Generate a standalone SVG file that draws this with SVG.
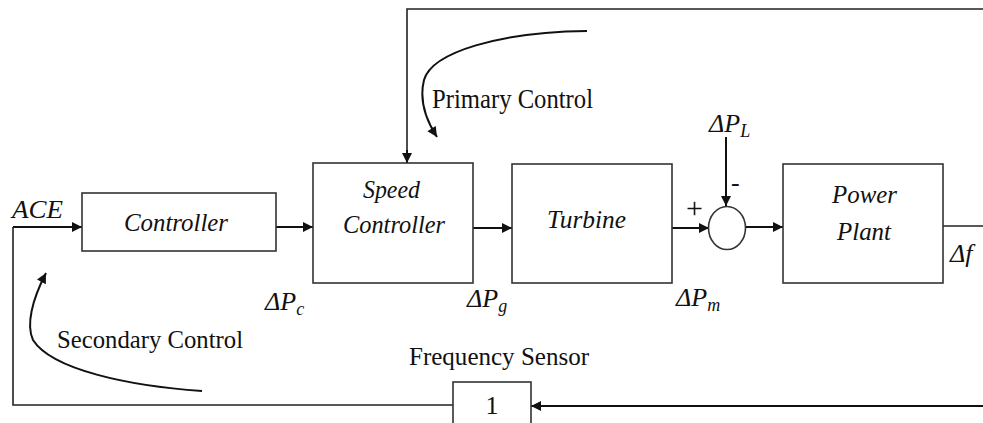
<svg xmlns="http://www.w3.org/2000/svg" width="983" height="423" viewBox="0 0 983 423">
<style>
.box{fill:#fff;stroke:#333;stroke-width:1.6}
.ln{fill:none;stroke:#111;stroke-width:2}
.fb{fill:none;stroke:#222;stroke-width:1.6}
.t{font-family:"Liberation Serif","Times New Roman",serif;font-size:26px;fill:#111}
.i{font-style:italic}
.sub{font-size:18px}
</style>
<defs>
<marker id="ah" viewBox="0 0 10 10" refX="10" refY="5" markerWidth="11" markerHeight="10" markerUnits="userSpaceOnUse" orient="auto">
<path d="M0,0 L10,5 L0,10 z" fill="#111"/>
</marker>
</defs>
<rect width="983" height="423" fill="#fff"/>
<g id="connectors">
<path class="ln" d="M13,227 L82,227" marker-end="url(#ah)"/>
<path class="ln" d="M276,227 L313,227" marker-end="url(#ah)"/>
<path class="ln" d="M473,228 L512,228" marker-end="url(#ah)"/>
<path class="ln" d="M672,228 L709,228" marker-end="url(#ah)"/>
<path class="ln" d="M746,227 L783,227" marker-end="url(#ah)"/>
<path class="ln" d="M726,137 L726,206" marker-end="url(#ah)"/>
<path class="fb" d="M943,226 L983,226"/>
<path class="fb" d="M983,9 L407,9 L407,153"/>
<path class="ln" d="M407,150 L407,163" marker-end="url(#ah)"/>
<path class="ln" d="M983,406 L531,406" marker-end="url(#ah)"/>
<path class="fb" d="M453,405 L13,405 L13,227"/>
<path class="ln" d="M587,31 C500,32 432,52 424,80 C419,100 426,120 437,137" marker-end="url(#ah)"/>
<path class="ln" d="M202,391 C130,386 52,370 33,340 C26,325 32,300 46,273" marker-end="url(#ah)"/>
</g>
<g id="controller">
<rect class="box" x="82" y="193" width="194" height="58"/>
<text class="t i" x="124" y="231" textLength="104" lengthAdjust="spacingAndGlyphs">Controller</text>
</g>
<g id="speed-controller">
<rect class="box" x="313" y="163" width="160" height="120"/>
<text class="t i" x="363" y="198" textLength="57" lengthAdjust="spacingAndGlyphs">Speed</text>
<text class="t i" x="343" y="233" textLength="102" lengthAdjust="spacingAndGlyphs">Controller</text>
</g>
<g id="turbine">
<rect class="box" x="512" y="164" width="160" height="119"/>
<text class="t i" x="547" y="228" textLength="79" lengthAdjust="spacingAndGlyphs">Turbine</text>
</g>
<g id="sum">
<ellipse class="box" cx="727" cy="228" rx="18.5" ry="21.5"/>
<text class="t" x="686" y="218" style="font-size:30px">+</text>
<text class="t" x="731" y="191">-</text>
</g>
<g id="power-plant">
<rect class="box" x="783" y="164" width="160" height="119"/>
<text class="t i" x="832" y="203" textLength="65" lengthAdjust="spacingAndGlyphs">Power</text>
<text class="t i" x="837" y="240" textLength="54" lengthAdjust="spacingAndGlyphs">Plant</text>
</g>
<g id="frequency-sensor">
<rect class="box" x="453" y="382" width="78" height="50"/>
<text class="t" x="492" y="414" text-anchor="middle">1</text>
<text class="t" x="409" y="365" textLength="180" lengthAdjust="spacingAndGlyphs">Frequency Sensor</text>
</g>
<g id="labels">
<text class="t i" x="12" y="218" textLength="51" lengthAdjust="spacingAndGlyphs">ACE</text>
<text class="t i" x="265" y="310">ΔP<tspan class="sub" dy="5">c</tspan></text>
<text class="t i" x="467" y="307">ΔP<tspan class="sub" dy="5">g</tspan></text>
<text class="t i" x="676" y="306">ΔP<tspan class="sub" dy="5">m</tspan></text>
<text class="t i" x="709" y="132">ΔP<tspan class="sub" dy="5">L</tspan></text>
<text class="t i" x="950" y="262">Δf</text>
<text class="t" x="432" y="108" style="font-size:28px" textLength="161" lengthAdjust="spacingAndGlyphs">Primary Control</text>
<text class="t" x="57" y="348" textLength="186" lengthAdjust="spacingAndGlyphs">Secondary Control</text>
</g>
</svg>
